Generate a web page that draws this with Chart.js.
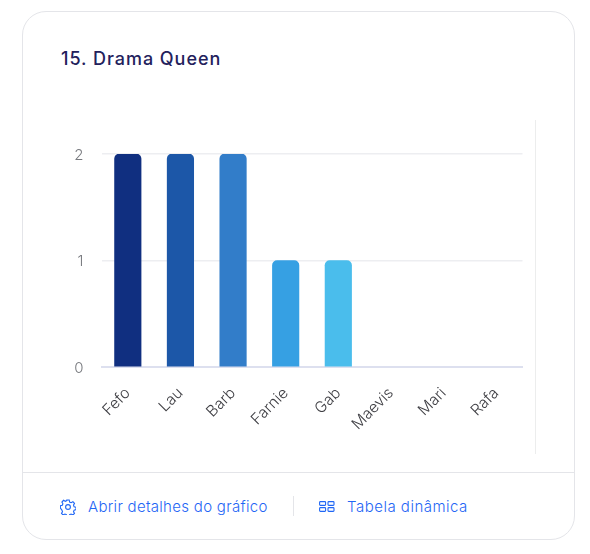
<!DOCTYPE html>
<html lang="pt-BR">
<head>
<meta charset="utf-8">
<title>15. Drama Queen</title>
<script src="https://cdn.jsdelivr.net/npm/chart.js@4"></script>
<style>
html,body{margin:0;padding:0;background:#fff}
body{width:590px;height:554px;position:relative;overflow:hidden;font-family:Inter,sans-serif}
.card{position:absolute;left:22px;top:11px;width:551px;height:527px;border:1px solid #e4e5e9;border-radius:24px}
h2{position:absolute;left:61px;top:48px;margin:0;font-size:18px;line-height:22px;font-weight:500;letter-spacing:.95px;color:#23215c}
.wrap{position:absolute;left:40px;top:120px;width:495px;height:334px;border-right:1px solid #eceded}
.sep{position:absolute;left:23px;top:472px;width:551px;height:1px;background:#e4e5e9}
.vsep{position:absolute;left:293px;top:496px;width:1px;height:20px;background:#e4e5e9}
.lnk{position:absolute;top:497px;font-size:15px;line-height:20px;letter-spacing:.3px;color:#1f66f5;font-weight:300;white-space:nowrap}
svg{position:absolute;fill:none;stroke:#1f66f5;stroke-width:1.1}
</style>
</head>
<body>
<div class="card"></div>
<h2>15. Drama Queen</h2>
<div class="wrap"><canvas id="c" width="495" height="334"></canvas></div>
<div class="sep"></div>
<svg style="left:60px;top:499px" width="16" height="16" viewBox="0 0 16 16"><circle cx="8" cy="8" r="2.4"/><path d="M6.8 1h2.4l.4 2 1.5.7 1.8-1 1.6 1.7-1 1.7.6 1.6 1.9.5v2.4l-1.9.5-.6 1.5 1 1.8-1.6 1.6-1.8-1-1.5.7-.4 2H6.800l-.4-2-1.500-.7-1.800 1-1.600-1.600 1-1.800-.6-1.500L.4 9.200V6.800l1.900-.5.6-1.600-1-1.700 1.600-1.700 1.800 1 1.500-.7z"/></svg>
<div class="lnk" style="left:88px">Abrir detalhes do gráfico</div>
<div class="vsep"></div>
<svg style="left:319px;top:501px" width="16" height="11" viewBox="0 0 16 11"><rect x=".6" y=".6" width="6" height="3.800" rx=".8"/><rect x="9" y=".6" width="6" height="3.800" rx=".8"/><rect x=".6" y="6.600" width="6" height="3.800" rx=".8"/><rect x="9" y="6.600" width="6" height="3.800" rx=".8"/></svg>
<div class="lnk" style="left:347px;letter-spacing:.5px">Tabela dinâmica</div>
<script>
var names=['Fefo','Lau','Barb','Farnie','Gab','Maevis','Mari','Rafa'];
var counts=[2,2,2,1,1,0,0,0];
var barColors=['#102f80','#1c57a8','#327dc9','#36a0e3','#4abdec','#5ccbf0','#6dd3f2','#7edbf4'];
var yTicks=[0,1,2];

new Chart(document.getElementById('c').getContext('2d'),{
  type:'bar',
  data:{labels:names,datasets:[{
    data:counts,
    // empty categories leave no mark
    backgroundColor:function(ctx){return ctx.raw?barColors[ctx.dataIndex]:'transparent'},
    barThickness:26.5,
    borderRadius:{topLeft:5,topRight:5,bottomLeft:0,bottomRight:0},
    borderSkipped:false
  }]},
  options:{
    responsive:false,animation:false,
    layout:{padding:{top:34,right:12.5,left:0,bottom:0}},
    plugins:{legend:{display:false},tooltip:{enabled:false}},
    scales:{
      x:{
        grid:{display:false,drawTicks:false},
        border:{color:'#dde0ef',width:2},
        ticks:{font:{family:'Inter',size:15.5,weight:'300'},color:'#3f3f44',maxRotation:45,minRotation:45,padding:17},
        afterFit:function(s){s.height=87}
      },
      y:{
        min:0,max:2,
        afterBuildTicks:function(s){s.ticks=yTicks.map(function(v){return {value:v}})},
        grid:{color:'#edeef1',drawTicks:false,lineWidth:1.5},
        border:{display:false},
        ticks:{font:{family:'Inter',size:15,weight:'300'},color:'#77797e',padding:18,labelOffset:1},
        afterFit:function(s){s.width=61.5}
      }
    }
  }
});
</script>
</body>
</html>
